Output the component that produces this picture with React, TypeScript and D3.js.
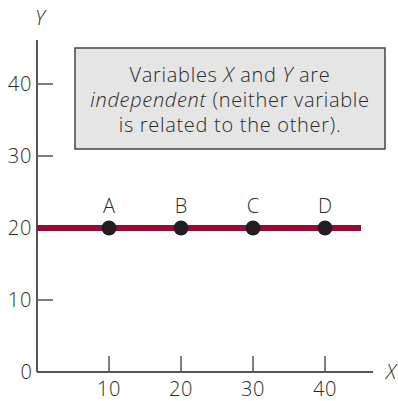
import React from "react";
import * as d3 from "d3";

const pointLabels = ["A", "B", "C", "D"];
const xValues = [10, 20, 30, 40];
const yValues = [20, 20, 20, 20];
const xTicks = [10, 20, 30, 40];
const yTicks = [10, 20, 30, 40];
const lineY = 20;
const lineXEnd = 45;

const W = 398;
const H = 401;
const FONT = "'Open Sans', 'Liberation Sans', Arial, sans-serif";
const TEXT = "#2a2a2a";
const AXIS = "#555";
const FS = 20;
const LS = 0.7;

export default function App() {
  const x = d3.scaleLinear().domain([0, 40]).range([37, 325]);
  const y = d3.scaleLinear().domain([0, 40]).range([372, 84]);
  const x0 = x(0);
  const y0 = y(0);
  const line = d3.line<[number, number]>().x((d) => x(d[0])).y((d) => y(d[1]));

  return (
    <svg
      width={W}
      height={H}
      style={{ position: "absolute", left: 0, top: 0, background: "#fff" }}
      fontFamily={FONT}
      fontWeight={300}
    >
      {/* axes */}
      <line x1={x0} y1={y0} x2={x0} y2={40} stroke={AXIS} strokeWidth={2} />
      <line x1={x0} y1={y0} x2={373} y2={y0} stroke={AXIS} strokeWidth={2} />
      <text x={40} y={25} fontSize={FS} fontStyle="italic" fill={TEXT} textAnchor="middle">Y</text>
      <text x={391} y={379} fontSize={FS} fontStyle="italic" fill={TEXT} textAnchor="middle">X</text>
      <text x={32} y={y0 + 7} fontSize={FS} fill={TEXT} textAnchor="end">0</text>

      {yTicks.map((t) => (
        <g key={"y" + t}>
          <line x1={x0} x2={x0 + 16} y1={y(t)} y2={y(t)} stroke={AXIS} strokeWidth={1.5} />
          <text x={32} y={y(t) + 7} fontSize={FS} letterSpacing={LS} fill={TEXT} textAnchor="end">{t}</text>
        </g>
      ))}
      {xTicks.map((t) => (
        <g key={"x" + t}>
          <line x1={x(t)} x2={x(t)} y1={y0} y2={y0 - 16} stroke={AXIS} strokeWidth={1.5} />
          <text x={x(t)} y={396} fontSize={FS} letterSpacing={LS} fill={TEXT} textAnchor="middle">{t}</text>
        </g>
      ))}

      {/* note box */}
      <rect x={75} y={48} width={310} height={101} fill="#e5e5e5" stroke="#444" strokeWidth={1.5} />
      <g fontSize={FS} letterSpacing={LS} fill={TEXT} textAnchor="middle">
        <text x={230} y={82}>
          Variables <tspan fontStyle="italic">X</tspan> and <tspan fontStyle="italic">Y</tspan> are
        </text>
        <text x={230} y={107}>
          <tspan fontStyle="italic">independent</tspan> (neither variable
        </text>
        <text x={230} y={132}>is related to the other).</text>
      </g>

      {/* horizontal relation line */}
      <path
        d={line([[0, lineY], [lineXEnd, lineY]]) || ""}
        stroke="#9a0a33"
        strokeWidth={6}
        fill="none"
      />

      {/* points */}
      {xValues.map((xv, i) => (
        <g key={pointLabels[i]}>
          <circle cx={x(xv)} cy={y(yValues[i])} r={7.5} fill="#231f20" />
          <text x={x(xv)} y={y(yValues[i]) - 15} fontSize={FS} fill={TEXT} textAnchor="middle">
            {pointLabels[i]}
          </text>
        </g>
      ))}
    </svg>
  );
}
